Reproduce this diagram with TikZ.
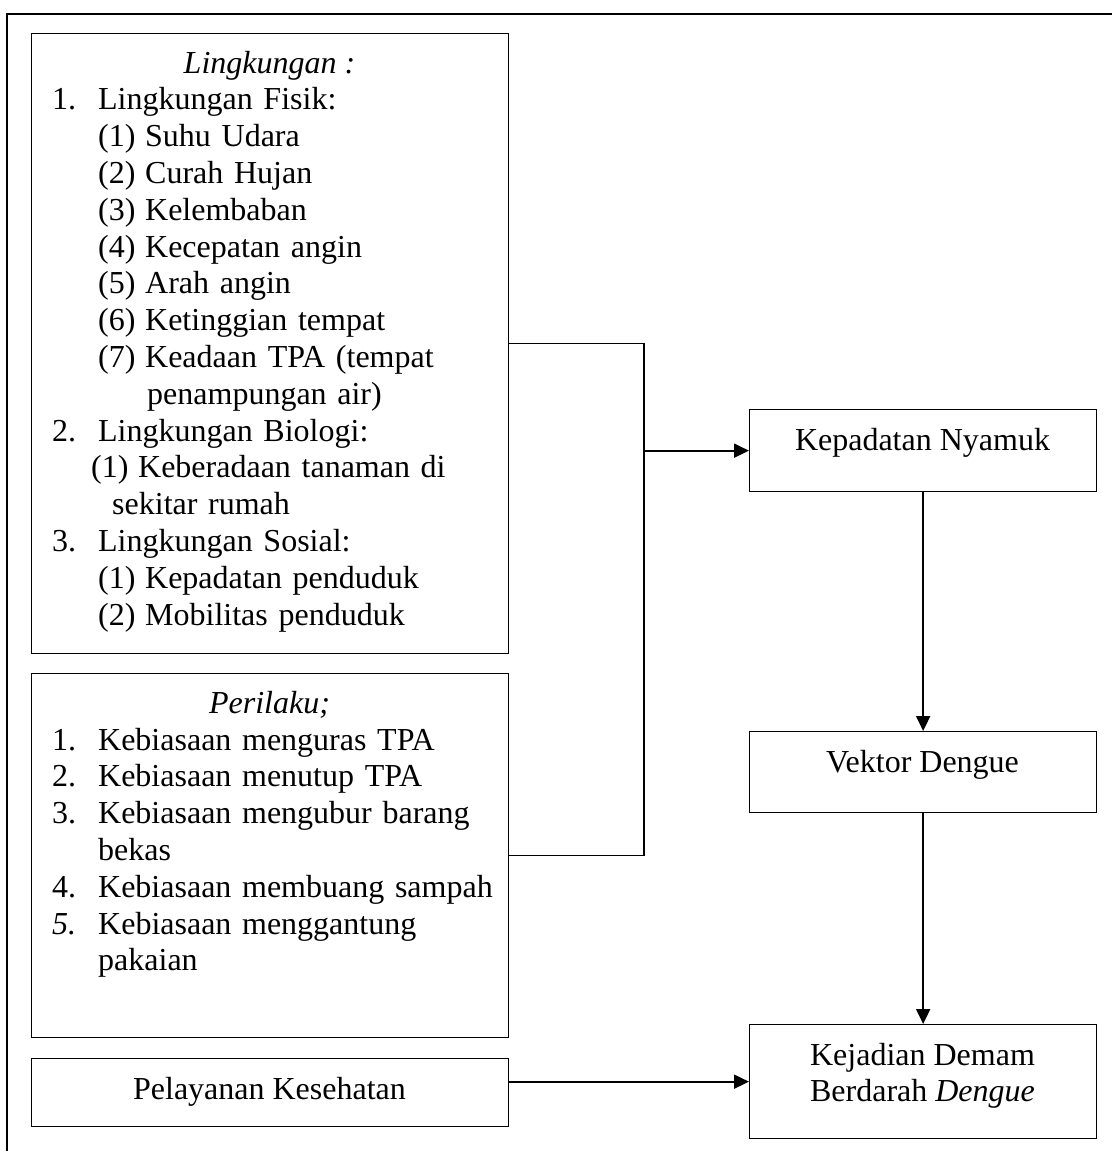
\documentclass[tikz,border=0pt]{standalone}
\usepackage{fontspec}
\setmainfont{Liberation Serif}
\usetikzlibrary{arrows.meta}
\newcommand\myfs{\fontsize{32}{36.8}\selectfont}
\begin{document}
\begin{tikzpicture}[x=1pt,y=-1pt,
  box/.style={draw, line width=1.3pt, inner sep=0pt, anchor=north west},
  txt/.style={inner sep=0pt, font=\myfs},
  list/.style={txt, anchor=base west, text width=450pt, align=left},
  conn/.style={line width=1.6pt},
  arr/.style={conn, line width=1.9pt, -{Triangle[length=15pt,width=14pt]}}]
\useasboundingbox (0,0) rectangle (1111,1151);
% outer frame
\draw[line width=1.3pt] (7,1160) -- (7,14) -- (1120,14);
% boxes
\node[box, minimum width=477pt, minimum height=620pt] (lingk) at (31,33) {};
\node[box, minimum width=477pt, minimum height=364pt] (peri) at (31,673) {};
\node[box, minimum width=477pt, minimum height=68pt] (pel) at (31,1058) {};
\node[box, minimum width=347pt, minimum height=82pt] (kep) at (749,409) {};
\node[box, minimum width=347pt, minimum height=81pt] (vek) at (749,731) {};
\node[box, minimum width=347pt, minimum height=114pt] (kej) at (749,1024) {};
% texts box 1
\node[txt, anchor=base] (lingkT) at (269.5,73) {\textit{Lingkungan :}};
\node[list] (lingkL) at (52,109.8) {%
\makebox[46pt][l]{1.}Lingkungan Fisik:\\
\hspace*{46pt}\makebox[47pt][l]{(1)}Suhu Udara\\
\hspace*{46pt}\makebox[47pt][l]{(2)}Curah Hujan\\
\hspace*{46pt}\makebox[47pt][l]{(3)}Kelembaban\\
\hspace*{46pt}\makebox[47pt][l]{(4)}Kecepatan angin\\
\hspace*{46pt}\makebox[47pt][l]{(5)}Arah angin\\
\hspace*{46pt}\makebox[47pt][l]{(6)}Ketinggian tempat\\
\hspace*{46pt}\makebox[47pt][l]{(7)}Keadaan TPA (tempat\\
\hspace*{95pt}penampungan air)\\
\makebox[46pt][l]{2.}Lingkungan Biologi:\\
\hspace*{39pt}\makebox[47pt][l]{(1)}Keberadaan tanaman di\\
\hspace*{60pt}sekitar rumah\\
\makebox[46pt][l]{3.}Lingkungan Sosial:\\
\hspace*{46pt}\makebox[47pt][l]{(1)}Kepadatan penduduk\\
\hspace*{46pt}\makebox[47pt][l]{(2)}Mobilitas penduduk};
% texts box 2
\node[txt, anchor=base] (periT) at (269.5,713) {\textit{Perilaku;}};
\node[list] (periL) at (52,750) {%
\makebox[46pt][l]{1.}Kebiasaan menguras TPA\\
\makebox[46pt][l]{2.}Kebiasaan menutup TPA\\
\makebox[46pt][l]{3.}\makebox[389pt][s]{Kebiasaan mengubur barang}\\
\hspace*{46pt}bekas\\
\makebox[46pt][l]{4.}Kebiasaan membuang sampah\\
\makebox[46pt][l]{\textit{5.}}Kebiasaan menggantung\\
\hspace*{46pt}pakaian};
% other texts
\node[txt, anchor=base] (pelT) at (269.5,1099) {Pelayanan Kesehatan};
\node[txt, anchor=base] (kepT) at (922.5,450) {Kepadatan Nyamuk};
\node[txt, anchor=base] (vekT) at (922.5,772) {Vektor Dengue};
\node[txt, anchor=base] (kejT1) at (922.5,1065) {Kejadian Demam};
\node[txt, anchor=base] (kejT2) at (922.5,1101.8) {Berdarah \textit{Dengue}};
% connectors
\coordinate (bus) at (kep.west -| 644,0);
\draw[conn] (lingk.east) -| (bus);
\draw[conn] (peri.east) -| (bus);
\draw[arr] (bus) -- (kep.west);
\draw[arr] (kep.south) -- (vek.north);
\draw[arr] (vek.south) -- (kej.north);
\draw[arr] (pel.east |- kej.west) -- (kej.west);
\end{tikzpicture}
\end{document}
